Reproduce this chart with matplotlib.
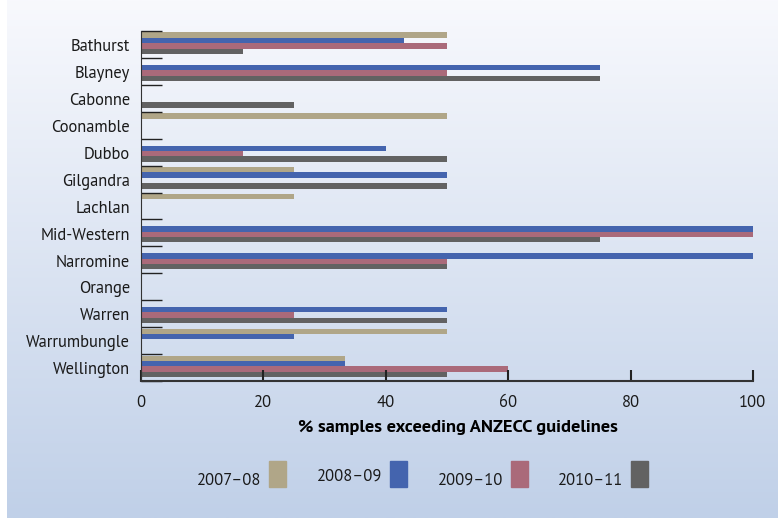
import numpy as np
import matplotlib
matplotlib.use("Agg")
from matplotlib import pyplot as plt
from matplotlib.patches import Rectangle

regions = ["Bathurst", "Blayney", "Cabonne", "Coonamble", "Dubbo", "Gilgandra",
           "Lachlan", "Mid-Western", "Narromine", "Orange", "Warren",
           "Warrumbungle", "Wellington"]
years = ["2007–08", "2008–09", "2009–10", "2010–11"]

v0708 = [50, 0, 0, 50, 0, 25, 25, 0, 0, 0, 0, 50, 33.3]
v0809 = [42.9, 75, 0, 0, 40, 50, 0, 100, 100, 0, 50, 25, 33.3]
v0910 = [50, 50, 0, 0, 16.7, 0, 0, 100, 50, 0, 25, 0, 60]
v1011 = [16.7, 75, 25, 0, 50, 50, 0, 75, 50, 0, 50, 0, 50]
series = [v0708, v0809, v0910, v1011]
colors = ["#b0a688", "#4464ae", "#aa6a7a", "#626262"]

plt.rcParams['font.family'] = ['PT Sans', 'DejaVu Sans']
plt.rcParams['text.color'] = '#1a1a1a'
plt.rcParams['xtick.labelcolor'] = '#1a1a1a'
plt.rcParams['ytick.labelcolor'] = '#1a1a1a'

fig = plt.figure(figsize=(7.78, 5.22), dpi=100)
renderer = fig.canvas.get_renderer()


def fit_size(text, target_px, weight='normal'):
    # font size that makes the text about target_px wide
    t = fig.text(0, 0, text, fontsize=10, fontweight=weight)
    w = t.get_window_extent(renderer).width
    t.remove()
    return 10 * target_px / w


fs = fit_size("Warrumbungle", 105)
fs_leg = fit_size("2007–08", 64)
fs_xl = fit_size("% samples exceeding ANZECC guidelines", 321, 'bold')

# background gradient panel
bg = fig.add_axes([7/778, 4/522, 771/778, 518/522], zorder=-10)
grad = np.linspace(0, 1, 256)[:, None]
top = np.array([248, 249, 253]) / 255
bot = np.array([192, 208, 232]) / 255
img = top[None, None, :] * (1 - grad[:, :, None]) + bot[None, None, :] * grad[:, :, None]
bg.imshow(img, aspect='auto', extent=[0, 1, 0, 1])
bg.axis('off')

ax = fig.add_axes([141/778, 1 - 381/522, 612/778, 350/522])
ax.patch.set_alpha(0)

y = np.arange(len(regions))
h = 0.2
for j, (vals, c) in enumerate(zip(series, colors)):
    ax.barh(y - 0.345 + j * h, vals, height=h, color=c, label=years[j])

ax.set_xlim(0, 100)
ax.set_ylim(len(regions) - 0.5, -0.5)
ax.set_xticks([0, 20, 40, 60, 80, 100])
ax.tick_params(axis='x', direction='in', length=8, width=1.5, labelsize=fs, pad=10, color='#222222')

ax.set_yticks(np.arange(len(regions) + 1) - 0.5)
ax.set_yticklabels([])
ax.tick_params(axis='y', which='major', direction='in', length=15, width=1, color='#222222')
ax.set_yticks(y + 0.1, minor=True)
ax.set_yticklabels(regions, minor=True)
ax.tick_params(axis='y', which='minor', length=0, labelsize=fs, pad=8)
for lab in ax.get_yticklabels(minor=True):
    lab.set_va('center')

for s in ['top', 'right']:
    ax.spines[s].set_visible(False)
ax.spines['left'].set_color('#333333')
ax.spines['bottom'].set_color('#333333')
ax.spines['bottom'].set_linewidth(1.5)

ax.set_xlabel('% samples exceeding ANZECC guidelines', fontsize=fs_xl, fontweight='bold')
ax.xaxis.set_label_coords(0.518, -0.112)

# legend: label then swatch
leg_right = [261, 382, 503, 623]
leg_base = [485, 481, 485, 485]
for j, lx in enumerate(leg_right):
    fig.text(lx / 778, 1 - leg_base[j] / 522, years[j], ha='right', va='baseline',
             fontsize=fs_leg)
    fig.patches.append(Rectangle(((lx + 8) / 778, 1 - 487 / 522), 17 / 778, 26 / 522,
                                 transform=fig.transFigure, color=colors[j]))

fig.savefig("out.png", dpi=100)
